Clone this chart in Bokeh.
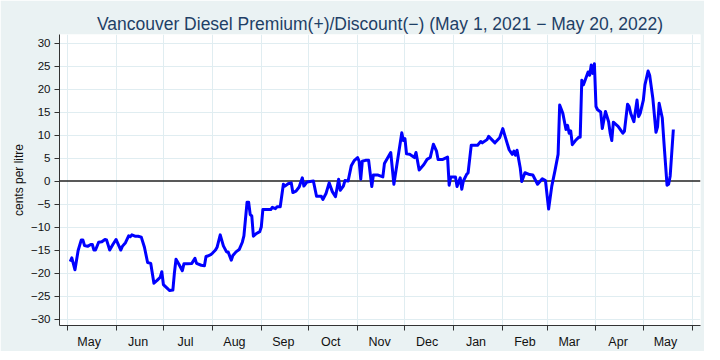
import pandas as pd
from bokeh.plotting import figure
from bokeh.models import Range1d, FixedTicker, Span, ColumnDataSource
from bokeh.embed import file_html
from bokeh.resources import INLINE

# ---- data ----
dates = [
    "2021-05-03", "2021-05-04", "2021-05-06", "2021-05-08", "2021-05-10", "2021-05-11", "2021-05-12",
    "2021-05-14", "2021-05-16", "2021-05-17", "2021-05-18", "2021-05-19", "2021-05-21", "2021-05-23",
    "2021-05-25", "2021-05-26", "2021-05-28", "2021-05-30", "2021-06-01", "2021-06-04", "2021-06-05",
    "2021-06-07", "2021-06-09", "2021-06-10", "2021-06-11", "2021-06-13", "2021-06-15", "2021-06-17",
    "2021-06-19", "2021-06-21", "2021-06-23", "2021-06-25", "2021-06-27", "2021-06-29", "2021-06-30",
    "2021-07-01", "2021-07-04", "2021-07-05", "2021-07-07", "2021-07-08", "2021-07-09", "2021-07-11",
    "2021-07-13", "2021-07-14", "2021-07-16", "2021-07-19", "2021-07-21", "2021-07-22", "2021-07-25",
    "2021-07-27", "2021-07-28", "2021-07-29", "2021-07-31", "2021-08-01", "2021-08-03", "2021-08-04",
    "2021-08-06", "2021-08-08", "2021-08-10", "2021-08-11", "2021-08-13", "2021-08-14", "2021-08-16",
    "2021-08-18", "2021-08-20", "2021-08-21", "2021-08-23", "2021-08-24", "2021-08-25", "2021-08-26",
    "2021-08-27", "2021-08-29", "2021-08-31", "2021-09-01", "2021-09-02", "2021-09-04", "2021-09-07",
    "2021-09-08", "2021-09-10", "2021-09-11", "2021-09-13", "2021-09-15", "2021-09-16", "2021-09-18",
    "2021-09-20", "2021-09-21", "2021-09-23", "2021-09-25", "2021-09-27", "2021-09-28", "2021-09-30",
    "2021-10-02", "2021-10-04", "2021-10-06", "2021-10-09", "2021-10-10", "2021-10-12", "2021-10-14",
    "2021-10-16", "2021-10-18", "2021-10-20", "2021-10-21", "2021-10-23", "2021-10-24", "2021-10-26",
    "2021-10-28", "2021-10-30", "2021-11-01", "2021-11-02", "2021-11-03", "2021-11-04", "2021-11-06",
    "2021-11-08", "2021-11-10", "2021-11-11", "2021-11-14", "2021-11-17", "2021-11-18", "2021-11-22",
    "2021-11-24", "2021-11-29", "2021-11-30", "2021-12-01", "2021-12-02", "2021-12-04", "2021-12-07",
    "2021-12-08", "2021-12-10", "2021-12-13", "2021-12-15", "2021-12-17", "2021-12-19", "2021-12-21",
    "2021-12-22", "2021-12-25", "2021-12-28", "2021-12-29", "2021-12-30", "2022-01-02", "2022-01-03",
    "2022-01-05", "2022-01-06", "2022-01-07", "2022-01-09", "2022-01-10", "2022-01-12", "2022-01-15",
    "2022-01-16", "2022-01-18", "2022-01-19", "2022-01-22", "2022-01-23", "2022-01-25", "2022-01-27",
    "2022-01-30", "2022-02-01", "2022-02-02", "2022-02-05", "2022-02-07", "2022-02-08", "2022-02-09",
    "2022-02-10", "2022-02-12", "2022-02-13", "2022-02-15", "2022-02-18", "2022-02-20", "2022-02-23",
    "2022-02-26", "2022-02-28", "2022-03-02", "2022-03-04", "2022-03-06", "2022-03-08", "2022-03-09",
    "2022-03-11", "2022-03-13", "2022-03-14", "2022-03-15", "2022-03-16", "2022-03-17", "2022-03-19",
    "2022-03-21", "2022-03-22", "2022-03-23", "2022-03-24", "2022-03-25", "2022-03-27", "2022-03-28",
    "2022-03-29", "2022-03-30", "2022-03-31", "2022-04-01", "2022-04-02", "2022-04-04", "2022-04-05",
    "2022-04-07", "2022-04-09", "2022-04-10", "2022-04-11", "2022-04-12", "2022-04-15", "2022-04-18",
    "2022-04-19", "2022-04-21", "2022-04-22", "2022-04-23", "2022-04-25", "2022-04-27", "2022-04-28",
    "2022-04-29", "2022-05-01", "2022-05-02", "2022-05-04", "2022-05-05", "2022-05-07", "2022-05-09",
    "2022-05-10", "2022-05-11", "2022-05-13", "2022-05-14", "2022-05-16", "2022-05-17", "2022-05-18",
    "2022-05-20",
]
premium = [
    -17.5, -16.7, -19.3, -15.1, -12.8, -12.8, -14.0,
    -14.2, -13.8, -13.8, -15.0, -15.0, -13.3, -13.2,
    -12.7, -12.8, -15.0, -13.8, -12.7, -15.0, -14.2,
    -13.4, -11.9, -12.1, -11.7, -12.0, -12.0, -12.2,
    -14.4, -17.7, -17.9, -22.2, -21.6, -20.9, -19.7,
    -22.5, -23.5, -23.8, -23.7, -19.9, -17.0, -18.2,
    -19.5, -18.0, -18.0, -17.9, -16.8, -17.9, -18.3,
    -18.4, -16.4, -16.3, -16.0, -15.7, -15.0, -14.4,
    -11.7, -14.1, -15.4, -15.4, -17.2, -16.2, -15.4,
    -14.9, -13.3, -11.9, -4.6, -4.6, -7.3, -7.6,
    -12.0, -11.4, -11.0, -10.0, -6.2, -6.2, -6.2,
    -5.7, -6.0, -5.6, -5.6, -0.7, -1.1, -0.6,
    -0.4, -2.5, -2.2, -1.3, 0.7, -1.1, -0.2,
    -0.1, 0.0, -3.3, -3.3, -4.0, -2.7, -0.4,
    -2.3, -3.4, 0.4, -2.0, -1.1, 0.1, 0.0,
    3.3, 4.5, 5.1, 4.3, 0.4, 4.3, 4.5,
    4.5, -1.2, 1.3, 1.3, 0.9, 3.8, 6.2,
    -0.7, 10.5, 8.8, 9.2, 5.9, 5.8, 5.1,
    6.2, 2.4, 3.6, 4.7, 5.1, 8.0, 6.5,
    4.7, 4.7, 5.2, -0.9, 0.9, 0.9, -1.2,
    0.7, -1.8, 0.0, 1.4, 1.8, 7.8, 7.8,
    7.8, 8.6, 8.3, 9.0, 9.7, 9.0, 8.3,
    9.4, 11.4, 10.2, 6.8, 5.8, 6.5, 5.6,
    6.7, 2.9, -0.1, 1.8, 1.4, 1.3, -0.7,
    0.5, 0.1, -6.1, -1.1, 2.2, 5.8, 16.5,
    14.7, 11.2, 12.1, 10.4, 10.9, 7.9, 8.8,
    9.5, 9.5, 21.9, 20.9, 21.8, 23.7, 23.0,
    25.2, 23.4, 25.5, 16.2, 15.5, 15.0, 11.4,
    15.1, 12.9, 10.4, 8.8, 12.8, 11.9, 10.4,
    10.8, 16.7, 16.2, 14.7, 12.9, 17.6, 14.0,
    14.7, 17.6, 20.9, 23.9, 23.0, 18.0, 10.6,
    11.8, 16.9, 13.7, 8.6, -0.9, -0.7, 1.1,
    11.2,
]
month_starts = [
    "2021-05-01", "2021-06-01", "2021-07-01", "2021-08-01", "2021-09-01", "2021-10-01",
    "2021-11-01", "2021-12-01", "2022-01-01", "2022-02-01", "2022-03-01", "2022-04-01",
    "2022-05-01", "2022-06-01",
]
month_labels = ["May", "Jun", "Jul", "Aug", "Sep", "Oct", "Nov", "Dec",
                "Jan", "Feb", "Mar", "Apr", "May"]
y_ticks = [-30, -25, -20, -15, -10, -5, 0, 5, 10, 15, 20, 25, 30]

title_text = "Vancouver Diesel Premium(+)/Discount(\u2212) (May 1, 2021 \u2212 May 20, 2022)"
y_title = "cents per litre"

# ---- derived positions (days since 1 May 2021) ----
origin = pd.Timestamp("2021-05-01")
x_days = [(pd.Timestamp(d) - origin).days for d in dates]
start_days = [(pd.Timestamp(d) - origin).days for d in month_starts]
mid_days = [d + 14 for d in start_days[:-1]]

source = ColumnDataSource(data=dict(x=x_days, y=premium))

FONT = "Liberation Sans"

p = figure(
    frame_width=641, frame_height=291,
    min_border_left=59, min_border_right=4, min_border_top=34, min_border_bottom=19,
    x_range=Range1d(-4.8, 401.2), y_range=Range1d(-31.4, 31.85),
    output_backend="svg", toolbar_location=None,
    background_fill_color="white", border_fill_color="#eaf2f3",
    outline_line_color=None,
)

# title
p.title.text = title_text
p.title.align = "center"
p.title.text_font = FONT
p.title.text_font_size = "17.5px"
p.title.text_font_style = "normal"
p.title.text_color = "#1e3f66"
p.title.standoff = 2

# grids
p.xgrid.ticker = FixedTicker(ticks=start_days)
p.ygrid.ticker = FixedTicker(ticks=[t for t in y_ticks if t != 0])
p.grid.grid_line_color = "#e0edf1"
p.grid.grid_line_width = 1

# x axis: labels mid-month, tick marks at month starts (minor ticks)
xa = p.xaxis[0]
xa.ticker = FixedTicker(ticks=mid_days, minor_ticks=start_days)
xa.major_label_overrides = {d: lab for d, lab in zip(mid_days, month_labels)}
xa.major_tick_out = 0
xa.major_tick_in = 0
xa.minor_tick_out = 5
xa.minor_tick_in = 0
xa.minor_tick_line_color = "#333333"
xa.major_label_standoff = 4
xa.major_label_text_font = FONT
xa.major_label_text_font_size = "12.5px"
xa.major_label_text_color = "#111111"
xa.axis_line_color = "#333333"

# y axis
ya = p.yaxis[0]
ya.ticker = FixedTicker(ticks=y_ticks)
ya.major_label_overrides = {t: (str(t) if t >= 0 else "\u2212" + str(-t)) for t in y_ticks}
ya.minor_tick_line_color = None
ya.major_tick_out = 5
ya.major_tick_in = 0
ya.major_tick_line_color = "#333333"
ya.major_label_standoff = 4
ya.major_label_text_font = FONT
ya.major_label_text_font_size = "11.5px"
ya.major_label_text_color = "#111111"
ya.axis_line_color = "#333333"
ya.axis_label = y_title
ya.axis_label_text_font = FONT
ya.axis_label_text_font_size = "12px"
ya.axis_label_text_font_style = "normal"
ya.axis_label_text_color = "#111111"
ya.axis_label_standoff = 2

# zero reference line
p.add_layout(Span(location=0, dimension="width", line_color="#222222",
                  line_width=1.5, level="underlay"))

# series
p.line("x", "y", source=source, line_color="#0000ff", line_width=3, line_join="round")

open("out.html", "w").write(file_html(p, INLINE))
